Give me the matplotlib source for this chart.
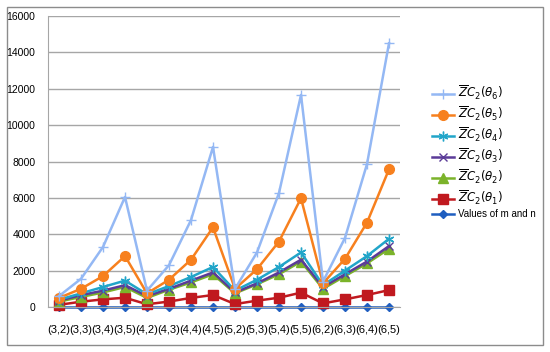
import matplotlib
matplotlib.use("Agg")
import matplotlib.pyplot as plt
from matplotlib.patches import Rectangle

categories = ["(3,2)", "(3,3)", "(3,4)", "(3,5)", "(4,2)", "(4,3)", "(4,4)", "(4,5)",
              "(5,2)", "(5,3)", "(5,4)", "(5,5)", "(6,2)", "(6,3)", "(6,4)", "(6,5)"]

values_mn = [0, 0, 0, 0, 0, 0, 0, 0, 0, 0, 0, 0, 0, 0, 0, 0]
theta1 = [120, 290, 420, 510, 150, 300, 500, 660, 160, 350, 510, 790, 200, 420, 660, 930]
theta2 = [300, 550, 800, 1100, 500, 950, 1350, 1800, 750, 1250, 1800, 2500, 1000, 1700, 2400, 3200]
theta3 = [350, 650, 900, 1200, 600, 1000, 1450, 1900, 800, 1300, 1900, 2600, 1100, 1800, 2500, 3350]
theta4 = [400, 750, 1100, 1450, 700, 1150, 1650, 2200, 900, 1500, 2200, 3000, 1200, 2000, 2800, 3750]
theta5 = [500, 1000, 1700, 2800, 750, 1500, 2600, 4380, 1000, 2080, 3600, 5980, 1300, 2650, 4640, 7570]
theta6 = [600, 1550, 3300, 6050, 900, 2300, 4780, 8800, 1000, 3000, 6270, 11660, 1400, 3800, 7860, 14500]

yticks = [0, 2000, 4000, 6000, 8000, 10000, 12000, 14000, 16000]

series = [
    (r"$\overline{Z}C_2(\theta_6)$", theta6, "#94B8F4", "+", 7, 1.0),
    (r"$\overline{Z}C_2(\theta_5)$", theta5, "#F7801E", "o", 7, 0),
    (r"$\overline{Z}C_2(\theta_4)$", theta4, "#21A5C9", (6, 2, 0), 7, 1.0),
    (r"$\overline{Z}C_2(\theta_3)$", theta3, "#5B3B98", "x", 6, 1.0),
    (r"$\overline{Z}C_2(\theta_2)$", theta2, "#7BB32A", "^", 7, 0),
    (r"$\overline{Z}C_2(\theta_1)$", theta1, "#C0191F", "s", 7, 0),
    ("Values of m and n", values_mn, "#1F5EC0", "D", 4.5, 0),
]

plt.rcParams['font.family'] = ['Liberation Sans', 'DejaVu Sans']

fig = plt.figure(figsize=(5.5, 3.52), dpi=100)
ax = fig.add_axes([48/550, 45/352, 352/550, 291/352])

x = list(range(len(categories)))
handles = []
for label, vals, color, marker, ms, mew in reversed(series):
    kw = dict(color=color, lw=1.8, marker=marker, markersize=ms, label=label, clip_on=False)
    if mew:
        kw['markeredgewidth'] = mew
    else:
        kw['markeredgecolor'] = color
    h, = ax.plot(x, vals, **kw)
    handles.append(h)
handles = handles[::-1]

ax.set_xlim(-0.5, len(categories) - 0.5)
ax.set_ylim(0, 16000)
ax.set_yticks(yticks)
ax.set_yticklabels([str(v) for v in yticks], fontsize=7.5)
ax.set_xticks(x)
ax.set_xticklabels(categories, fontsize=8)
ax.tick_params(axis='y', length=0, pad=9)
ax.tick_params(axis='x', length=0, pad=13)
ax.grid(axis='y', color='#A6A6A6', lw=1.0)
ax.set_axisbelow(True)
for s in ['top', 'right']:
    ax.spines[s].set_visible(False)
ax.spines['left'].set_color('#A6A6A6')
ax.spines['bottom'].set_color('#A6A6A6')

leg = ax.legend(handles=handles, loc='upper left', bbox_to_anchor=(427/550, 1 - 79/352),
                bbox_transform=fig.transFigure, frameon=False, fontsize=7,
                handlelength=2.3, handletextpad=0.4, labelspacing=0.3, borderpad=0)
for t in leg.get_texts()[:6]:
    t.set_fontsize(8.5)

fig.patches.append(Rectangle((7/550, 7/352), 536/550, 338/352, transform=fig.transFigure,
                             fill=False, edgecolor='#8C8C8C', lw=1.0))

fig.savefig("out.png", dpi=100)
